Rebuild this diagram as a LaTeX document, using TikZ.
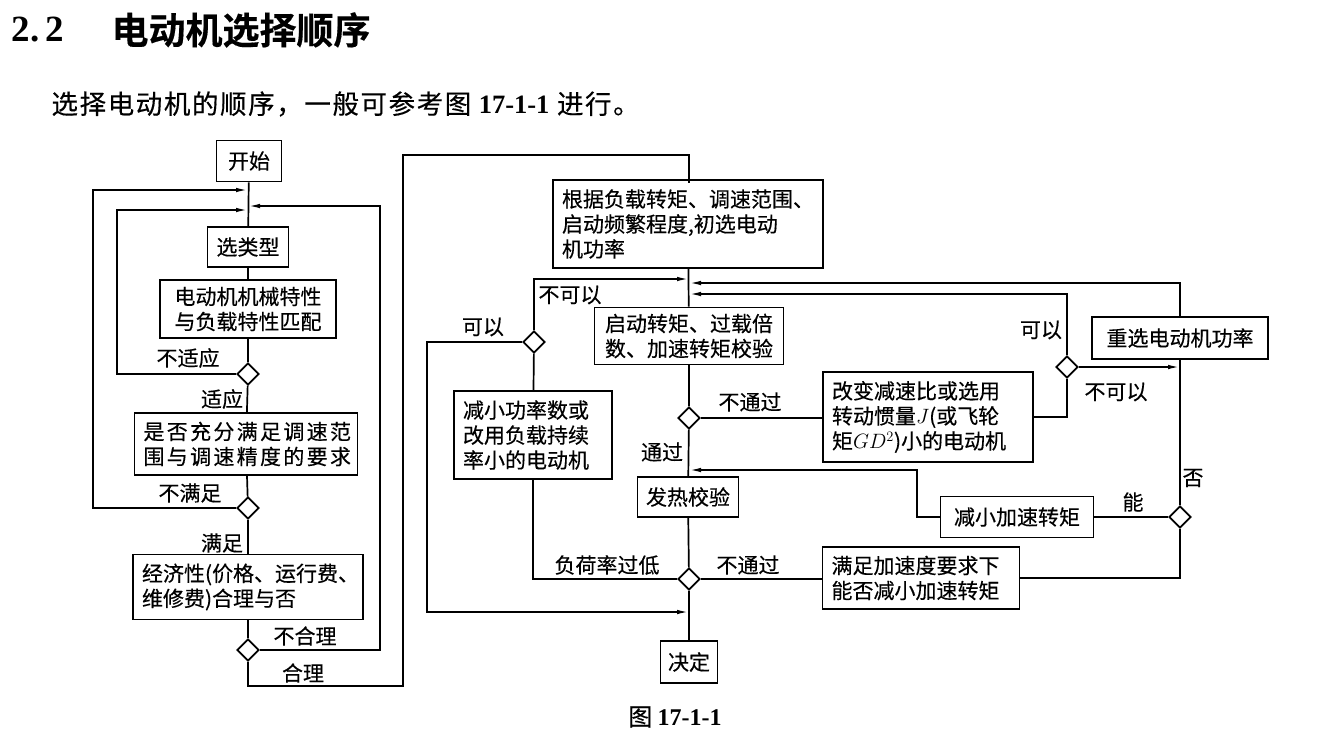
\documentclass[tikz,border=0pt]{standalone}
\usepackage{fontspec}
\setmainfont{Noto Sans CJK SC}[BoldFont={Noto Sans CJK SC Bold}, FakeBold=0.35]
\newfontfamily\latinfont{Liberation Serif}
\usetikzlibrary{positioning,arrows.meta,shapes.geometric}

\begin{document}
\begin{tikzpicture}[
  x=1pt, y=-1pt,
  every node/.style={font=\fontsize{21}{25}\selectfont},
  box/.style={draw, line width=1.7pt, inner sep=0pt, align=center},
  mbox/.style={draw, line width=1.7pt, inner sep=9pt, align=left},
  dec/.style={draw, diamond, line width=1.7pt, minimum width=22pt,
              minimum height=22pt, inner sep=0pt},
  wire/.style={line width=1.7pt},
  arr/.style={wire, -{Latex[length=12pt, width=4.5pt]}},
  lbl/.style={inner sep=0pt}
]
\useasboundingbox (0,0) rectangle (1319,742);

% heading
\node[anchor=west, font=\latinfont\bfseries\fontsize{37}{40}\selectfont] (secnum) at (8,30) {2.\,2};
\node[anchor=west, font=\bfseries\fontsize{37}{40}\selectfont] (title) at (108,30) {电动机选择顺序};
\node[anchor=west, font=\fontsize{26.5}{30}\selectfont] (intro) at (48,104)
  {\addfontfeature{LetterSpace=6}选择电动机的顺序，一般可参考图 {\latinfont\bfseries 17-1-1} 进行。};

% left column
\node[box, minimum width=65pt, minimum height=41pt] (start) at (249,161) {开始};
\node[box, minimum width=81pt, minimum height=40pt] (type) at (248,247) {选类型};
\node[box, minimum width=176pt, minimum height=58pt] (match) at (248,309)
  {电动机机械特性\\与负载特性匹配};
\node[dec] (d1) at (248,374) {};
\node[mbox, text width=205pt, minimum height=59pt] (speed) at (246,444)
  {\addfontfeature{LetterSpace=11}是否充分满足调速范\\围与调速精度的要求};
\node[dec] (d2) at (248,508) {};
\node[mbox, text width=212pt, minimum height=57pt] (econ) at (248,587)
  {经济性(价格、运行费、\\维修费)合理与否};
\node[dec] (d3) at (248,650) {};

\coordinate (j1) at (248,190);
\coordinate (j2) at (248,210);
\coordinate (j3) at (248,206);

\draw[wire] (start) -- (type);
\draw[wire] (type) -- (match);
\draw[wire] (match) -- (d1);
\draw[wire] (d1) -- (speed);
\draw[wire] (speed) -- (d2);
\draw[wire] (d2) -- (econ);
\draw[wire] (econ) -- (d3);
\draw[arr] (d1.west) -- (117,374) |- (j2);
\draw[arr] (d2.west) -- (93,508) |- (j1);
\draw[arr] (d3.east) -- (380,650) |- (j3);
\draw[wire] (d3.south) |- (403,686) -- (403,155) -| (689,183);

\node[lbl] (l-unfit) at (188,358) {不适应};
\node[lbl] (l-fit) at (222,399) {适应};
\node[lbl] (l-unmet) at (190,493) {不满足};
\node[lbl] (l-met) at (222,543) {满足};
\node[lbl] (l-unreas) at (305,636) {不合理};
\node[lbl] (l-reas) at (303,673) {合理};

% right part
\node[mbox, text width=252pt, minimum height=82pt] (power) at (688,224)
  {根据负载转矩、调速范围、\\启动频繁程度,初选电动\\机功率};
\node[box, minimum width=189pt, minimum height=57pt] (torque) at (689,336)
  {启动转矩、过载倍\\数、加速转矩校验};
\node[dec] (dok) at (534,342) {};
\node[mbox, text width=140pt, minimum height=84pt] (reduce) at (533,435)
  {减小功率数或\\改用负载持续\\率小的电动机};
\node[dec] (dt1) at (689,418) {};
\node[box, minimum width=101pt, minimum height=40pt] (heat) at (688,497) {发热校验};
\node[dec] (dt2) at (689,579) {};
\node[box, minimum width=57pt, minimum height=42pt] (decide) at (689,662) {决定};
\node[mbox, text width=192pt, minimum height=83pt] (ratio) at (928,417)
  {改变减速比或选用\\转动惯量$J$(或飞轮\\矩$GD^2$)小的电动机};
\node[mbox, text width=179pt, minimum height=59pt] (accel) at (921,578)
  {满足加速度要求下\\能否减小加速转矩};
\node[dec] (dr) at (1067,367) {};
\node[box, minimum width=176pt, minimum height=42pt] (reselect) at (1180,338) {重选电动机功率};
\node[dec] (dn) at (1180,517) {};
\node[box, minimum width=153pt, minimum height=41pt] (cut) at (1017,517) {减小加速转矩};

\coordinate (j4) at (689,279);
\coordinate (j5) at (689,283);
\coordinate (j6) at (689,294);
\coordinate (j7) at (1180,367);
\coordinate (j8) at (689,470);
\coordinate (j9) at (689,612);

\draw[wire] (power) -- (torque);
\draw[arr] (dok.north) |- (j4);
\draw[arr] (reselect.north) |- (j5);
\draw[arr] (dr.north) |- (j6);
\draw[wire] (torque) -- (dt1);
\draw[wire] (dt1.east) -- (dt1 -| ratio.west);
\draw[wire] (ratio.east) -| (dr.south);
\draw[arr] (dr.east) -- (j7);
\draw[wire] (reselect) -- (dn);
\draw[wire] (dn) -- (cut);
\draw[arr] (cut.west) -- (917,517) |- (j8);
\draw[wire] (dn.south) |- (accel.east);
\draw[wire] (dt1) -- (heat);
\draw[wire] (heat) -- (dt2);
\draw[wire] (dt2.east) -- (dt2 -| accel.west);
\draw[arr] (dok.west) -- (427,342) |- (j9);
\draw[wire] (dok) -- (reduce);
\draw[wire] (reduce.south) |- (dt2.west);
\draw[wire] (dt2) -- (decide);

\node[lbl] (l-no1) at (570,295) {不可以};
\node[lbl] (l-yes1) at (483,327) {可以};
\node[lbl] (l-fail1) at (750,402) {不通过};
\node[lbl] (l-pass) at (662,452) {通过};
\node[lbl] (l-low) at (607,565) {负荷率过低};
\node[lbl] (l-fail2) at (748,565) {不通过};
\node[lbl] (l-yes2) at (1041,330) {可以};
\node[lbl] (l-no2) at (1116,392) {不可以};
\node[lbl] (l-neg) at (1193,478) {否};
\node[lbl] (l-can) at (1133,502) {能};

\node[font=\fontsize{24}{28}\selectfont] (caption) at (675,717)
  {图 {\latinfont\bfseries 17-1-1}};
\end{tikzpicture}
\end{document}
